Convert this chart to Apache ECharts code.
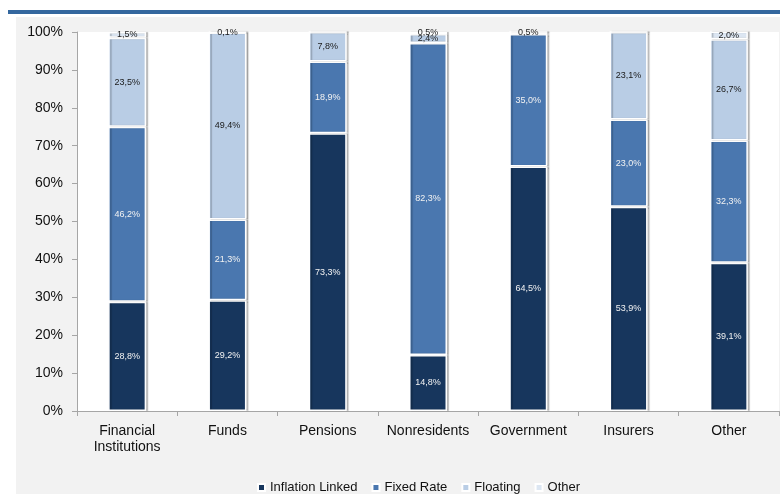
<!DOCTYPE html>
<html>
<head>
<meta charset="utf-8">
<script src="https://cdn.jsdelivr.net/npm/echarts@6/dist/echarts.min.js"></script>
<style>
  html, body { margin: 0; padding: 0; background: #fff; }
  .topline { position: absolute; left: 8px; top: 10px; width: 772px; height: 4px; background: #34679e; }
  #chart { position: absolute; left: 16px; top: 17px; width: 764px; height: 477px; background: #f2f2f2; }
</style>
</head>
<body>
<div class="topline"></div>
<div id="chart"></div>
<script>
// categories and shares (%) per holder
const categories = ['Financial\nInstitutions', 'Funds', 'Pensions', 'Nonresidents', 'Government', 'Insurers', 'Other']
const inflationLinked = [28.8, 29.2, 73.3, 14.8, 64.5, 53.9, 39.1]
const fixedRate = [46.2, 21.3, 18.9, 82.3, 35.0, 23.0, 32.3]
const floating = [23.5, 49.4, 7.8, 2.4, 0.5, 23.1, 26.7]
const other = [1.5, 0.1, 0, 0.5, 0, 0, 2.0]
const yTicks = [0, 10, 20, 30, 40, 50, 60, 70, 80, 90, 100]

const fmt = p => p.value > 0 ? p.value.toFixed(1).replace('.', ',') + '%' : ''

const mkSeries = (name, data, color, labelColor) => ({
  name,
  type: 'bar',
  stack: 'total',
  barWidth: 38,
  data,
  itemStyle: {
    color,
    borderColor: '#fff',
    borderWidth: 1.5,
    shadowColor: 'rgba(0,0,0,0.22)',
    shadowOffsetX: 2,
    shadowBlur: 1
  },
  label: {
    show: true,
    position: 'inside',
    formatter: fmt,
    color: labelColor,
    fontSize: 9,
    fontFamily: 'Liberation Sans'
  }
})

const chart = echarts.init(document.getElementById('chart'))
chart.setOption({
  animation: false,
  textStyle: { fontFamily: 'Liberation Sans' },
  grid: {
    left: 61, right: 1, top: 15, bottom: 83,
    show: true, backgroundColor: '#fff', borderWidth: 0
  },
  legend: {
    left: 236, top: 459,
    itemWidth: 7, itemHeight: 7, itemGap: 14,
    icon: 'rect',
    textStyle: { fontSize: 13, color: '#111', fontFamily: 'Liberation Sans' },
    data: ['Inflation Linked', 'Fixed Rate', 'Floating', 'Other']
  },
  xAxis: {
    type: 'category',
    data: categories,
    axisLine: { lineStyle: { color: '#a6a6a6' } },
    axisTick: { show: true, length: 5, lineStyle: { color: '#a6a6a6' } },
    axisLabel: { interval: 0, fontSize: 14, color: '#111', margin: 12, lineHeight: 16 }
  },
  yAxis: {
    type: 'value',
    min: yTicks[0],
    max: yTicks[yTicks.length - 1],
    interval: 10,
    splitLine: { show: false },
    axisLine: { show: true, lineStyle: { color: '#a6a6a6' } },
    axisTick: { show: true, length: 5, lineStyle: { color: '#a6a6a6' } },
    axisLabel: { fontSize: 14, color: '#111', margin: 14, formatter: v => v + '%' }
  },
  series: [
    mkSeries('Inflation Linked', inflationLinked, '#17365d', '#f2f2f2'),
    mkSeries('Fixed Rate', fixedRate, '#4a77af', '#f2f2f2'),
    mkSeries('Floating', floating, '#b9cde5', '#1a1a1a'),
    mkSeries('Other', other, '#dce6f2', '#1a1a1a')
  ]
})
</script>
</body>
</html>
